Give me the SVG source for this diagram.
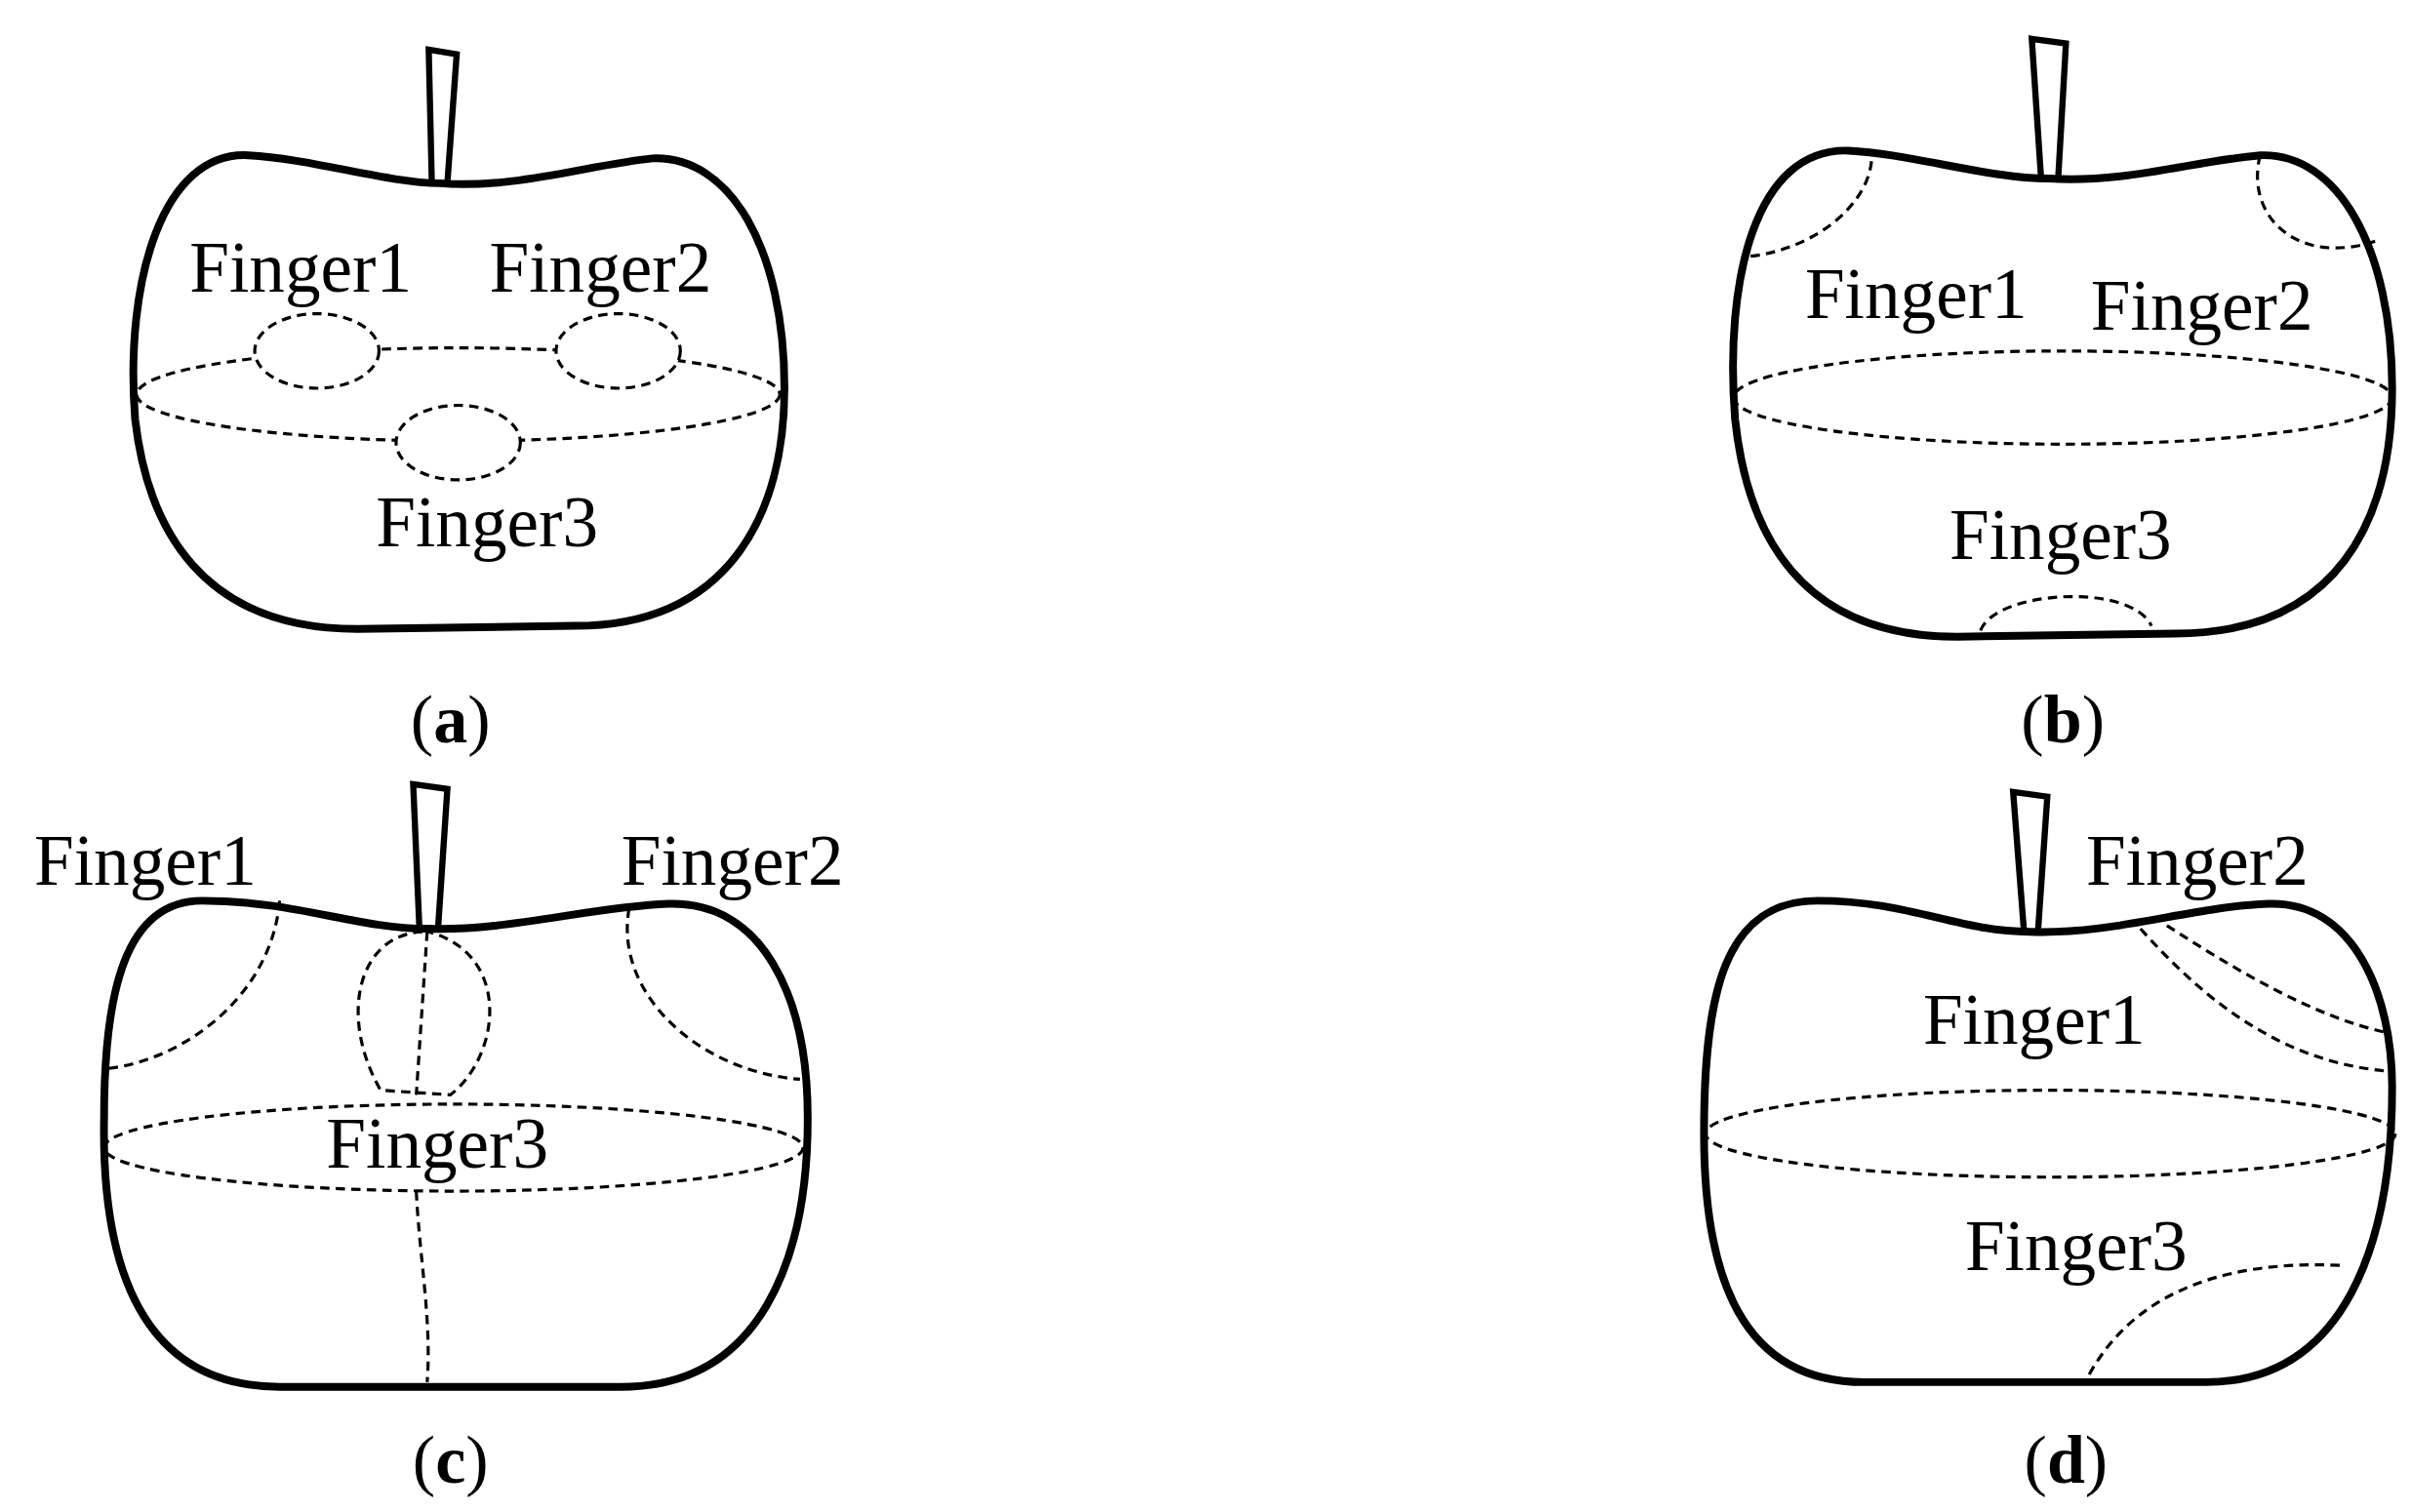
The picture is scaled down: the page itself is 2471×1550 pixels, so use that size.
<svg xmlns="http://www.w3.org/2000/svg" width="2471" height="1550" viewBox="0 0 2471 1550">
<style>
.o{fill:none;stroke:#000;stroke-width:5;stroke-linejoin:round}
.s{fill:#fff;stroke:#000;stroke-width:4}
.d{fill:none;stroke:#000;stroke-width:2;stroke-dasharray:6 4}
.dw{fill:#fff;stroke:#000;stroke-width:2;stroke-dasharray:6 4}
text{font-family:"Liberation Serif",serif;font-size:46px}
.c{text-anchor:middle;font-size:44px}
</style>
<rect width="2471" height="1550" fill="#fff"/>
<g transform="scale(1.592)">
<g id="panelA">
<path class="s" d="M276 32 L294 35 L288 118 L278 118 Z"/>
<path class="o" d="M283 118 C330 122 380 106 420 102 C470 100 505 160 505 250 C505 330 470 403 370 403 L230 405 C130 405 95 340 87 270 C80 180 105 97 160 100 C200 102 250 118 283 118 Z"/>
<ellipse class="d" cx="295" cy="254" rx="207" ry="30"/>
<ellipse class="dw" cx="204" cy="226" rx="40" ry="24"/>
<ellipse class="dw" cx="398" cy="226" rx="40" ry="24"/>
<ellipse class="dw" cx="295" cy="285" rx="40" ry="24"/>
<text x="122" y="188">Finger1</text>
<text x="315" y="188">Finger2</text>
<text x="242" y="352">Finger3</text>
<text class="c" x="290" y="478">(<tspan font-weight="bold">a</tspan>)</text>
</g>
<g id="panelB">
<path class="s" d="M1308 25 L1330 28 L1325 115 L1314 115 Z"/>
<path class="o" d="M1319 115 C1370 118 1410 104 1455 100 C1505 98 1540 160 1540 250 C1540 335 1505 408 1400 408 L1260 410 C1160 410 1125 345 1117 270 C1110 180 1130 95 1190 97 C1230 99 1280 115 1319 115 Z"/>
<path class="d" d="M1127 165 C1170 160 1205 130 1205 100"/>
<path class="d" d="M1455 100 C1445 140 1480 172 1530 155"/>
<ellipse class="d" cx="1328" cy="256" rx="212" ry="30"/>
<path class="d" d="M1275 406 C1285 380 1372 375 1385 403"/>
<text x="1162" y="205">Finger1</text>
<text x="1346" y="212">Finger2</text>
<text x="1255" y="360">Finger3</text>
<text class="c" x="1328" y="478">(<tspan font-weight="bold">b</tspan>)</text>
</g>
<g id="panelC">
<path class="s" d="M266 505 L288 508 L282 598 L270 598 Z"/>
<path class="o" d="M275 598 C325 600 380 584 430 582 C490 580 520 640 520 720 C520 810 490 893 400 893 L180 893 C100 893 65 830 67 720 C67 640 80 580 130 580 C190 580 230 598 275 598 Z"/>
<path class="d" d="M180 580 C175 640 120 682 70 688"/>
<path class="d" d="M405 585 C395 640 450 690 515 695"/>
<path class="d" d="M272 600 C230 602 218 655 245 702 L290 705 C322 680 330 615 276 600"/>
<path class="d" d="M275 600 L268 705"/>
<ellipse class="d" cx="292" cy="739" rx="225" ry="28"/>
<path class="d" d="M268 767 C270 810 278 850 275 890"/>
<text x="22" y="570">Finger1</text>
<text x="400" y="570">Finger2</text>
<text x="210" y="752">Finger3</text>
<text class="c" x="290" y="955">(<tspan font-weight="bold">c</tspan>)</text>
</g>
<g id="panelD">
<path class="s" d="M1296 510 L1318 513 L1312 600 L1303 600 Z"/>
<path class="o" d="M1307 600 C1360 602 1410 584 1460 582 C1515 580 1540 640 1540 700 C1540 800 1510 890 1420 890 L1200 890 C1120 890 1097 820 1097 730 C1097 640 1110 580 1170 580 C1230 580 1260 600 1307 600 Z"/>
<path class="d" d="M1378 598 C1420 645 1470 685 1540 690"/>
<path class="d" d="M1395 596 C1440 625 1490 655 1537 665"/>
<ellipse class="d" cx="1320" cy="730" rx="222" ry="28"/>
<path class="d" d="M1345 885 C1370 840 1420 810 1510 815"/>
<text x="1343" y="570">Finger2</text>
<text x="1238" y="672">Finger1</text>
<text x="1265" y="818">Finger3</text>
<text class="c" x="1330" y="955">(<tspan font-weight="bold">d</tspan>)</text>
</g>
</g>
</svg>
